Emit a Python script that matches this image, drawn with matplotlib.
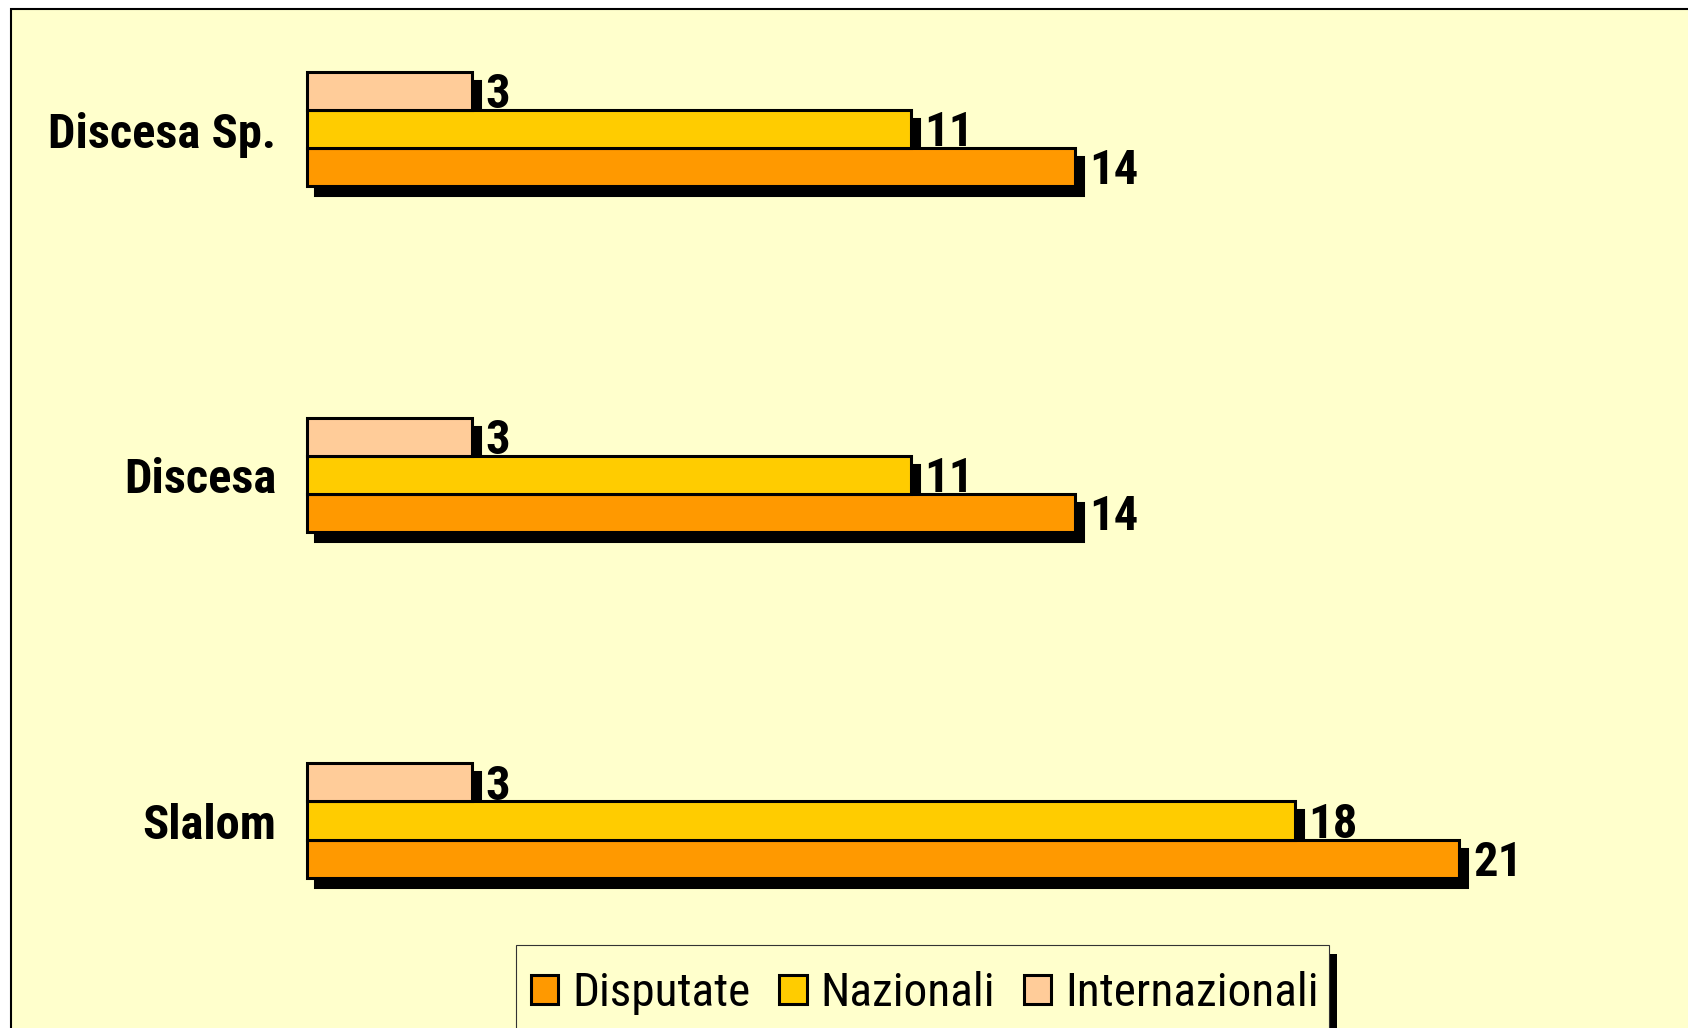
import matplotlib.pyplot as plt
from matplotlib.patches import Rectangle, Patch
from matplotlib.transforms import ScaledTranslation

categories = ['Slalom', 'Discesa', 'Discesa Sp.']
disputate = [21, 14, 14]
nazionali = [18, 11, 11]
internazionali = [3, 3, 3]

series = [('Disputate', disputate, '#FF9900', -0.11),
          ('Nazionali', nazionali, '#FFCC00', 0.0),
          ('Internazionali', internazionali, '#FFCC99', 0.11)]

plt.rcParams['font.family'] = ['Roboto Condensed', 'DejaVu Sans']

W, H = 1688, 1028
fig = plt.figure(figsize=(W / 100, H / 100), dpi=100, facecolor='white')

# background frame (runs off the right and bottom edges)
fig.add_artist(Rectangle((11 / W, -0.1), 1.2, 1 - 9 / H + 0.1, transform=fig.transFigure,
                         facecolor='#FFFFCC', edgecolor='black', lw=1.5, zorder=-1))

ax = fig.add_axes([0, 0, 1, 1])
ax.set_facecolor('none')
ax.axis('off')
px = 54.87  # pixels per unit
ax.set_xlim(-307 / px, (W - 307) / px)
ax.set_ylim(-(H - 820.5) / 345.75, 820.5 / 345.75)

ys = list(range(len(categories)))
shadow = ax.transData + ScaledTranslation(8 / 100, -9 / 100, fig.dpi_scale_trans)
h = 0.11
for name, vals, col, off in series:
    yy = [y + off for y in ys]
    ax.barh(yy, vals, height=h, color='black', edgecolor='black', lw=2.2,
            transform=shadow, zorder=1)
for name, vals, col, off in series:
    yy = [y + off for y in ys]
    ax.barh(yy, vals, height=h, color=col, edgecolor='black', lw=2.2, zorder=2)
    for y, v in zip(yy, vals):
        ax.annotate(str(v), xy=(v, y), xytext=(10, -3), textcoords='offset points',
                    ha='left', va='center', fontsize=35, fontweight='bold', zorder=3)

for y, c in zip(ys, categories):
    ax.annotate(c, xy=(0, y), xytext=(-22, -4), textcoords='offset points',
                ha='right', va='center', fontsize=35, fontweight='bold')

# legend box (runs off the bottom edge) with a black drop shadow
lx, ly, lw_ = 516 / W, 1 - 945 / H, 813 / W
ax.add_patch(Rectangle((lx + 8 / W, -0.05), lw_, ly + 0.05 - 9 / H, transform=fig.transFigure,
                       facecolor='black', edgecolor='none', zorder=3.9))
ax.add_patch(Rectangle((lx, -0.05), lw_, ly + 0.05, transform=fig.transFigure,
                       facecolor='#FFFFCC', edgecolor='#333333', lw=0.8, zorder=4))

handles = [Patch(facecolor=col, edgecolor='black', lw=2.2, label=name)
           for name, vals, col, off in series]
ax.legend(handles=handles, ncol=3, loc='center left',
          bbox_to_anchor=(531 / W, 1 - 993 / H), bbox_transform=fig.transFigure,
          borderaxespad=0, borderpad=0, fontsize=34, frameon=False,
          handlelength=0.58, handleheight=0.58, handletextpad=0.3,
          columnspacing=0.6)

plt.savefig('out.png', dpi=100, facecolor='white')
